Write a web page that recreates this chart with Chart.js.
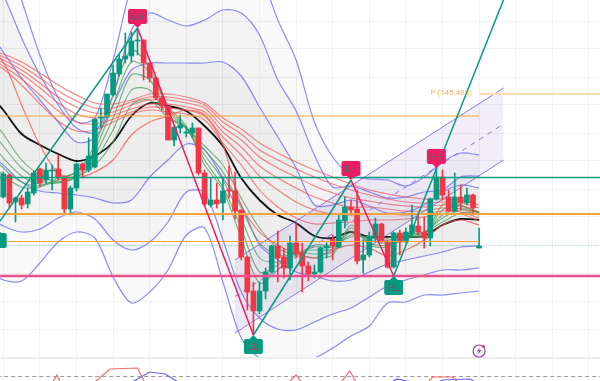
<!DOCTYPE html>
<html>
<head>
<meta charset="utf-8">
<title>Chart</title>
<script src="https://cdn.jsdelivr.net/npm/chart.js@4"></script>
<style>
    html, body { margin: 0; padding: 0; background: #fff; }
    canvas { display: block; }
</style>
</head>
<body>
<canvas id="main-chart" width="600" height="381"></canvas>
<script>
// The picture has no price axis, so values are heights in chart units read off the picture
const opens = [184,206,179,183,177,188,212,201,210,212,204,172,193,217,211,214,263,264,286,307,322,325,340,341,318,303,283,275,241,253,248,248,253,208,176,181,178,191,190,171,124,90,70,90,109,135,124,113,138,128,115,107,109,133,142,134,160,174,172,121,126,144,157,140,114,148,139,148,155,149,143,182,204,184,170,184,178,186,133];
const closes = [207,178,183,176,189,208,198,211,211,204,172,193,217,211,225,262,264,287,308,322,325,340,341,318,303,283,275,241,254,256,249,253,208,177,181,177,190,190,170,124,89,70,90,109,135,123,113,138,128,115,107,109,133,135,135,161,174,171,120,126,145,157,140,114,148,139,149,156,149,143,182,204,186,170,184,178,186,173,135];
const highs = [209,207,184,186,193,210,213,218,216,226,205,195,218,218,243,262,273,287,316,326,348,349,351,341,318,303,285,275,254,266,254,258,253,211,203,198,204,215,209,171,125,99,99,113,136,150,133,145,158,138,119,116,134,138,146,166,184,181,191,141,149,163,158,141,149,151,153,176,168,164,183,214,211,191,208,196,193,187,153];
const lows = [183,173,159,172,173,186,194,197,191,201,168,166,190,203,209,213,253,263,285,305,318,319,326,301,299,281,271,241,235,248,244,244,206,175,174,173,161,183,162,121,71,46,67,82,108,99,103,101,123,89,100,103,108,123,121,133,153,166,117,108,124,139,138,113,113,126,138,144,146,133,135,181,181,169,169,171,176,169,133];

const bandSteps = [-3,0,3,6,9,12,15,18,21,24,27,30,33,36,39,42,45,48,51,54,57,60,63,66,69,72,75,78];
const bandOuterTop = [491,436,381,326,283,259,263,321,396,441,466,476,471,461,446,411,361,321,259,224,206,202,201,195,204,219,228,226];
const bandMidTop = [416,386,343,306,276,253,249,286,351,368,361,355,361,371,368,346,301,270,226,194,195,189,183,184,189,191,204,205];
const bandInnerTop = [356,329,303,281,259,239,243,276,311,318,318,318,318,319,305,274,244,213,176,176,181,175,168,169,176,189,196,193];
const bandInnerLow = [231,216,199,190,188,186,183,178,181,204,221,237,231,203,176,136,121,109,105,100,101,109,117,121,125,129,134,135];
const bandMidLow = [166,155,149,152,163,169,162,141,131,139,159,189,188,141,89,63,52,51,59,67,73,84,95,101,106,111,111,113];
const bandOuterLow = [111,101,100,118,139,149,143,104,78,89,111,146,153,99,43,23,23,23,23,33,45,55,78,79,86,86,88,90];

const red1 = [333,327,319,308,296,286,278,277,281,287,287,284,278,263,252,238,228,219,211,204,197,191,187,184,182,182,181,176];
const red2 = [331,324,315,303,290,280,273,273,279,284,284,281,276,259,247,231,221,212,204,197,191,186,182,179,178,179,178,173];
const red3 = [329,321,311,298,284,274,268,269,276,281,281,278,273,254,241,224,213,204,195,188,183,180,177,175,174,176,175,169];
const red4 = [327,318,307,293,278,267,263,266,272,277,277,274,269,249,234,215,203,193,184,178,174,174,172,170,170,173,172,166];
const red5 = [325,315,302,286,270,259,257,262,269,274,273,271,265,244,226,205,191,179,171,167,166,167,167,166,167,170,169,163];
const red6 = [323,312,296,277,260,250,251,259,267,271,269,267,261,238,216,191,174,163,157,158,159,161,161,162,164,167,167,160];
const red7 = [336,319,276,236,208,203,209,221,246,259,265,271,266,236,176,149,136,127,123,131,136,133,125,131,141,156,161,156];
const green1 = [226,206,194,194,203,209,236,286,331,313,275,255,216,191,143,98,111,126,123,126,156,136,134,143,146,176,176,168];
const green2 = [236,213,199,195,201,209,231,276,319,309,273,253,221,194,153,109,116,128,127,129,153,138,136,144,147,171,175,168];
const green3 = [246,223,205,197,199,206,226,263,306,301,269,253,226,201,163,123,119,129,131,132,149,141,138,145,148,166,173,169];
const green4 = [259,235,213,201,198,204,221,251,291,291,265,253,231,209,173,138,126,127,134,134,146,143,141,146,149,163,171,169];
const green5 = [271,247,221,206,199,204,216,239,276,281,263,253,235,216,183,153,133,127,136,136,144,144,143,147,149,159,168,169];
const blackLine = [291,271,247,236,227,220,225,239,265,278,275,270,255,235,203,181,166,158,145,143,149,144,144,144,145,156,162,161];

// swing points, index on the candle axis
const swingX = [-1,22,41,57,64,82];
const swingY = [156,353,46,201,105,381];
const swingLabels = ["","LH","LL","LH","HL","HH"];

const channelX = [38,82];
const channelTop = [121,293];
const channelMid = [84.5,257];
const channelLow = [48,221];

const oscRedX = [7.7,8.8,9.6,14.2,17.5,22,23.5,46.2,48,49.3,54.9,56.8,58.2,69,70.4,73.7,75];
const oscRed = [-5,6,-5,-5,12,13,-5,-5,6,-5,-5,10,-5,-5,4,4,-5];
const oscBlueX = [20,24,26.5,29.8,62.6,64.5,66.2,70,72,76.5,78];
const oscBlue = [-5,9,7,-5,-5,2,0,-5,1,2,-3];

const gridX = [0,6,12,18,24,30,36,42,48,54,60,66,72,78,84,90,96];
const gridY = [24,52,80,108,136,164,192,220,248,276,304,332,360];

const GREEN = "#089981";
const RED = "#f23645";
const PINK = "#e91e63";
const ORANGE = "#f7a33c";
const BLUE = "rgba(120,120,250,0.85)";
const LAST = 78;
const RIGHT_EDGE = 98;
const PANE_FLOOR = 23;

function toPoints(xs, ys) {
    return xs.map((x, i) => ({ x: x, y: ys[i] }));
}

function bandLine(values, fillTarget) {
    return {
        type: "line",
        data: toPoints(bandSteps, values),
        borderColor: BLUE,
        borderWidth: 1.2,
        pointRadius: 0,
        tension: 0.3,
        order: 6,
        fill: fillTarget === undefined ? false : { target: fillTarget },
        backgroundColor: "rgba(60,60,60,0.032)",
        // the lower band runs off the pane, only its shading stays
        segment: {
            borderColor: (ctx) =>
                ctx.p0.parsed.y <= PANE_FLOOR && ctx.p1.parsed.y <= PANE_FLOOR ? "transparent" : undefined,
        },
    };
}

function ribbonLine(values, color, width) {
    return {
        type: "line",
        data: toPoints(bandSteps, values),
        borderColor: color,
        borderWidth: width,
        pointRadius: 0,
        tension: 0.3,
        order: 5,
    };
}

function levelLine(fromX, toX, value, color, width, dash) {
    return {
        type: "line",
        data: toPoints([fromX, toX], [value, value]),
        borderColor: color,
        borderWidth: width,
        borderDash: dash || [],
        pointRadius: 0,
        order: 1,
    };
}

function swingLine(from, to, color) {
    return {
        type: "line",
        data: toPoints(swingX.slice(from, to + 1), swingY.slice(from, to + 1)),
        borderColor: color,
        borderWidth: 1.5,
        pointRadius: 0,
        order: 0,
    };
}

const wicks = opens.map((o, i) => ({ x: i, y: [lows[i], highs[i]] }));
const bodies = opens.map((o, i) => ({ x: i, y: [o, closes[i]] }));
const candleColors = opens.map((o, i) => (closes[i] >= o ? GREEN : RED));

const datasets = [
    bandLine(bandOuterTop, 5),
    bandLine(bandMidTop, 4),
    bandLine(bandInnerTop, 3),
    bandLine(bandInnerLow),
    bandLine(bandMidLow),
    bandLine(bandOuterLow),
    // channel
    {
        type: "line",
        data: toPoints(channelX, channelTop),
        borderColor: "rgba(126,100,205,0.85)",
        borderWidth: 1,
        pointRadius: 0,
        order: 4,
        fill: { target: 7 },
        backgroundColor: "rgba(126,100,205,0.11)",
    },
    {
        type: "line",
        data: toPoints(channelX, channelLow),
        borderColor: "rgba(126,100,205,0.85)",
        borderWidth: 1,
        pointRadius: 0,
        order: 4,
    },
    {
        type: "line",
        data: toPoints(channelX, channelMid),
        borderColor: "rgba(126,100,205,0.85)",
        borderWidth: 1,
        borderDash: [5, 5],
        pointRadius: 0,
        order: 4,
    },
    ribbonLine(red1, "rgba(245,80,80,0.72)", 1.1),
    ribbonLine(red2, "rgba(245,80,80,0.72)", 1.1),
    ribbonLine(red3, "rgba(245,80,80,0.72)", 1.1),
    ribbonLine(red4, "rgba(245,80,80,0.72)", 1.1),
    ribbonLine(red5, "rgba(245,80,80,0.72)", 1.1),
    ribbonLine(red6, "rgba(245,80,80,0.72)", 1.1),
    ribbonLine(red7, "rgba(245,80,80,0.8)", 1.1),
    ribbonLine(green1, "rgba(70,155,85,0.75)", 1.1),
    ribbonLine(green2, "rgba(70,155,85,0.75)", 1.1),
    ribbonLine(green3, "rgba(70,155,85,0.75)", 1.1),
    ribbonLine(green4, "rgba(70,155,85,0.75)", 1.1),
    ribbonLine(green5, "rgba(70,155,85,0.75)", 1.1),
    ribbonLine(blackLine, "#111", 1.8),
    // candles
    {
        type: "bar",
        data: wicks,
        backgroundColor: candleColors,
        barThickness: 1,
        grouped: false,
        order: 3,
    },
    {
        type: "bar",
        data: bodies,
        backgroundColor: candleColors,
        barThickness: 5,
        grouped: false,
        order: 2,
    },
    // levels
    levelLine(-1, LAST, 265, ORANGE, 1),
    levelLine(-1, RIGHT_EDGE, 167, ORANGE, 2),
    levelLine(-1, LAST, 139.5, ORANGE, 1),
    levelLine(-1, RIGHT_EDGE, 203.5, GREEN, 1.5),
    levelLine(-1, RIGHT_EDGE, 135.3, "rgba(8,153,129,0.35)", 1, [1, 2]),
    levelLine(-1, RIGHT_EDGE, 105, "#ec4f8b", 2.4),
    levelLine(LAST, RIGHT_EDGE, 287, "#fcdcb8", 2),
    levelLine(-1, RIGHT_EDGE, PANE_FLOOR, "#ececec", 2),
    levelLine(-1, RIGHT_EDGE, 4.5, "#9a9a9a", 1, [4, 3]),
    // swings
    swingLine(0, 1, GREEN),
    swingLine(1, 2, PINK),
    swingLine(2, 3, GREEN),
    swingLine(3, 4, PINK),
    swingLine(4, 5, GREEN),
    // oscillator pane
    {
        type: "line",
        data: toPoints(oscRedX, oscRed),
        borderColor: "#f56a6a",
        borderWidth: 1.2,
        pointRadius: 0,
        order: 0,
    },
    {
        type: "line",
        data: toPoints(oscBlueX, oscBlue),
        borderColor: "#6666f0",
        borderWidth: 1.2,
        pointRadius: 0,
        order: 0,
    },
];

// Swing badges, the P label and the small bolt icon are drawn over the datasets
const overlay = {
    id: "overlay",
    afterDatasetsDraw(chart) {
        const ctx = chart.ctx;
        const x = chart.scales.x;
        const y = chart.scales.y;

        function badge(cx, tip, up, text, fill, ink) {
            const w = 19;
            const h = 15;
            const top = up ? tip - 4 - h : tip + 4;
            ctx.fillStyle = fill;
            ctx.beginPath();
            ctx.roundRect(cx - w / 2, top, w, h, 2);
            ctx.fill();
            ctx.beginPath();
            ctx.moveTo(cx - 4, up ? top + h : top);
            ctx.lineTo(cx, tip);
            ctx.lineTo(cx + 4, up ? top + h : top);
            ctx.fill();
            ctx.fillStyle = ink;
            ctx.font = "9px Roboto";
            ctx.textAlign = "center";
            ctx.textBaseline = "middle";
            ctx.fillText(text, cx, top + h / 2 + 1);
        }

        ctx.save();
        swingLabels.forEach((text, i) => {
            if (!text || text === "HH") return;
            const high = text === "LH";
            badge(x.getPixelForValue(swingX[i]), y.getPixelForValue(swingY[i]), high, text,
                high ? PINK : GREEN, high ? "#0b8573" : "#c9304f");
        });
        badge(x.getPixelForValue(71), y.getPixelForValue(213), true, "HH", PINK, "#0b8573");
        badge(x.getPixelForValue(-1), y.getPixelForValue(152), false, "", GREEN, "#c9304f");

        ctx.fillStyle = ORANGE;
        ctx.globalAlpha = 0.85;
        ctx.font = "8px Roboto";
        ctx.textAlign = "left";
        ctx.textBaseline = "middle";
        ctx.fillText("P (145.483)", x.getPixelForValue(70), y.getPixelForValue(288));
        ctx.globalAlpha = 1;

        const ix = x.getPixelForValue(LAST);
        const iy = y.getPixelForValue(30);
        ctx.strokeStyle = "#9c3fb5";
        ctx.lineWidth = 1.2;
        ctx.beginPath();
        ctx.arc(ix, iy, 6, 0, Math.PI * 2);
        ctx.stroke();
        ctx.fillStyle = "#9c3fb5";
        ctx.beginPath();
        ctx.moveTo(ix + 1.5, iy - 4);
        ctx.lineTo(ix - 2.5, iy + 0.5);
        ctx.lineTo(ix, iy + 0.5);
        ctx.lineTo(ix - 1.5, iy + 4);
        ctx.lineTo(ix + 2.5, iy - 1);
        ctx.lineTo(ix, iy - 1);
        ctx.closePath();
        ctx.fill();
        ctx.fillStyle = "#f23645";
        ctx.beginPath();
        ctx.arc(ix + 4.3, iy - 4.5, 1.4, 0, Math.PI * 2);
        ctx.fill();
        ctx.restore();
    },
};

new Chart(document.getElementById("main-chart"), {
    type: "line",
    data: { datasets: datasets },
    plugins: [overlay],
    options: {
        responsive: false,
        animation: false,
        maintainAspectRatio: false,
        layout: { padding: 0 },
        plugins: {
            legend: { display: false },
            tooltip: { enabled: false },
        },
        scales: {
            x: {
                type: "linear",
                offset: false,
                min: -0.54,
                max: 97.82,
                border: { display: false },
                grid: { color: "#f1f1f3", drawTicks: false, offset: false },
                ticks: { display: false },
                afterBuildTicks: (axis) => {
                    axis.ticks = gridX.map((v) => ({ value: v }));
                },
            },
            y: {
                min: 0,
                max: 381,
                border: { display: false },
                grid: { color: "#f1f1f3", drawTicks: false },
                ticks: { display: false },
                afterBuildTicks: (axis) => {
                    axis.ticks = gridY.map((v) => ({ value: v }));
                },
            },
        },
    },
});
</script>
</body>
</html>
